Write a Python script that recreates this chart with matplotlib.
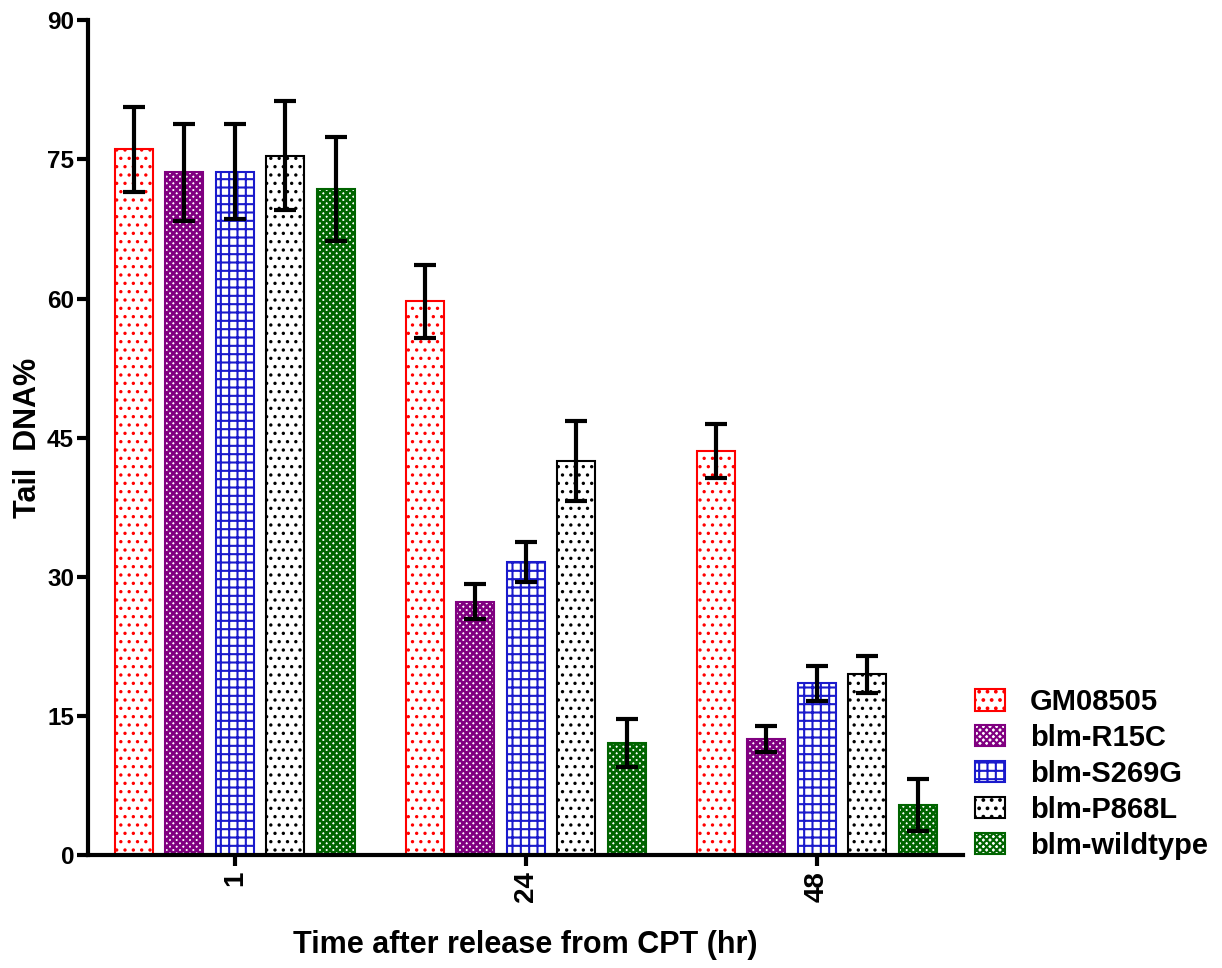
import numpy as np
import matplotlib
matplotlib.use("Agg")
import matplotlib.pyplot as plt

plt.rcParams['font.family'] = ['Liberation Sans', 'DejaVu Sans']
plt.rcParams['font.weight'] = 'bold'
plt.rcParams['hatch.linewidth'] = 1.6

times = ["1", "24", "48"]
lines = ["GM08505", "blm-R15C", "blm-S269G", "blm-P868L", "blm-wildtype"]
gm08505 = [76.1, 59.7, 43.6]
gm08505_err = [4.6, 3.9, 2.9]
r15c = [73.6, 27.3, 12.5]
r15c_err = [5.2, 1.9, 1.4]
s269g = [73.7, 31.6, 18.5]
s269g_err = [5.1, 2.2, 1.9]
p868l = [75.4, 42.5, 19.5]
p868l_err = [5.9, 4.3, 2.0]
wildtype = [71.8, 12.1, 5.4]
wildtype_err = [5.6, 2.6, 2.8]

means = [gm08505, r15c, s269g, p868l, wildtype]
errs = [gm08505_err, r15c_err, s269g_err, p868l_err, wildtype_err]
colors = ["#ff0000", "#800080", "#1a1acc", "#000000", "#006400"]
hatches = ["..", "xxxxx", "++", "..", "xxxxx"]
hatch_lw = [1.2, 2.0, 1.5, 1.2, 2.0]

fig = plt.figure(figsize=(12.22, 9.68), dpi=100)
ax = fig.add_axes([0.072, 0.1167, 0.716, 0.8623])

x = np.arange(len(times))
width = 0.1306
step = 0.1735
for i, name in enumerate(lines):
    pos = x + (i - 2) * step
    bars = ax.bar(pos, means[i], width, facecolor="white", edgecolor=colors[i],
                  hatch=hatches[i], linewidth=1.5, label=name, zorder=2)
    for b in bars:
        if hasattr(b, "set_hatch_linewidth"):
            b.set_hatch_linewidth(hatch_lw[i])
    ax.errorbar(pos, means[i], yerr=errs[i], fmt="none", ecolor="black",
                elinewidth=3, capsize=8, capthick=3, zorder=3)

ax.set_xlim(-0.505, 2.502)
ax.set_ylim(0, 90)
ax.set_yticks([0, 15, 30, 45, 60, 75, 90])
ax.set_xticks(x)
ax.set_xticklabels(times, rotation=90)
ax.tick_params(axis="y", labelsize=17.5, width=3, length=8, direction="out", pad=2)
ax.tick_params(axis="x", labelsize=20, width=3, length=8, direction="out")
for side in ["top", "right"]:
    ax.spines[side].set_visible(False)
for side in ["left", "bottom"]:
    ax.spines[side].set_linewidth(3)

ax.set_ylabel("Tail  DNA%", fontsize=22, fontweight="bold", labelpad=3)
ax.set_xlabel("Time after release from CPT (hr)", fontsize=22, fontweight="bold", labelpad=20)

leg = ax.legend(loc="lower left", bbox_to_anchor=(0.798, 0.112), bbox_transform=fig.transFigure,
                frameon=False, fontsize=21, handlelength=1.02, handleheight=0.75,
                labelspacing=0.27, handletextpad=0.85, borderaxespad=0, borderpad=0)
for h in leg.legend_handles:
    if hasattr(h, "set_hatch_linewidth"):
        h.set_hatch_linewidth(1.5)

fig.savefig("out.png", dpi=100)
